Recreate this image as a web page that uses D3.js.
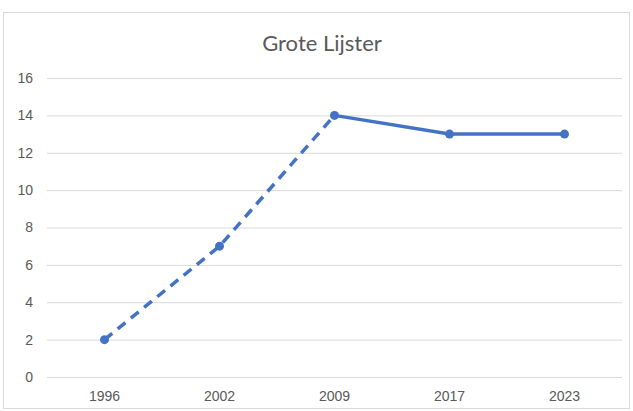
<!DOCTYPE html>
<html>
<head>
<meta charset="utf-8">
<script src="https://cdn.jsdelivr.net/npm/d3@7"></script>
<style>
  html, body { margin: 0; padding: 0; background: #fff; }
  svg { display: block; font-family: Lato, "Open Sans", sans-serif; }
</style>
</head>
<body>
<svg id="chart" width="633" height="411"></svg>
<script>
// Grote Lijster counts per survey year
const years = ["1996", "2002", "2009", "2017", "2023"];
const counts = [2, 7, 14, 13, 13];
const yTicks = [0, 2, 4, 6, 8, 10, 12, 14, 16];
// index up to which the segment is drawn dashed
const dashedUntil = 2;

const svg = d3.select("#chart");
const plot = { left: 47, right: 622, top: 78, bottom: 377 };
const lineColor = "#4472C4";
const textColor = "#595959";

// chart area border
svg.append("rect")
  .attr("x", 3.5).attr("y", 12.5)
  .attr("width", 626).attr("height", 396)
  .attr("fill", "#fff")
  .attr("stroke", "#d9d9d9").attr("stroke-width", 1);

svg.append("text")
  .attr("x", 322).attr("y", 51)
  .attr("text-anchor", "middle")
  .attr("font-size", 22)
  .attr("fill", textColor)
  .text("Grote Lijster");

const x = d3.scaleBand().domain(years).range([plot.left, plot.right]);
const y = d3.scaleLinear().domain([0, 16]).range([plot.bottom, plot.top]);

// horizontal gridlines + y labels
const yAxis = d3.axisLeft(y).tickValues(yTicks).tickSize(-(plot.right - plot.left));
const gy = svg.append("g").attr("transform", `translate(${plot.left},0)`).call(yAxis);
gy.select(".domain").remove();
gy.selectAll(".tick line").attr("stroke", "#d9d9d9").attr("stroke-width", 1);
gy.selectAll(".tick text").attr("fill", textColor).attr("font-size", 14).attr("x", -14);

// x labels
const xAxis = d3.axisBottom(x).tickSize(0).tickPadding(14);
const gx = svg.append("g").attr("transform", `translate(0,${plot.bottom})`).call(xAxis);
gx.select(".domain").remove();
gx.selectAll(".tick text").attr("fill", textColor).attr("font-size", 14);

const pts = years.map((yr, i) => ({ yr, v: counts[i], i }));
const cx = d => x(d.yr) + x.bandwidth() / 2;
const line = d3.line().x(cx).y(d => y(d.v));

svg.append("path")
  .datum(pts.filter(d => d.i <= dashedUntil))
  .attr("d", line)
  .attr("fill", "none")
  .attr("stroke", lineColor)
  .attr("stroke-width", 3.5)
  .attr("stroke-dasharray", "10,7");

svg.append("path")
  .datum(pts.filter(d => d.i >= dashedUntil))
  .attr("d", line)
  .attr("fill", "none")
  .attr("stroke", lineColor)
  .attr("stroke-width", 3.5)
  .attr("stroke-linejoin", "round");

svg.selectAll("circle.pt")
  .data(pts)
  .join("circle")
  .attr("class", "pt")
  .attr("cx", cx)
  .attr("cy", d => y(d.v))
  .attr("r", 4.5)
  .attr("fill", lineColor);
</script>
</body>
</html>
